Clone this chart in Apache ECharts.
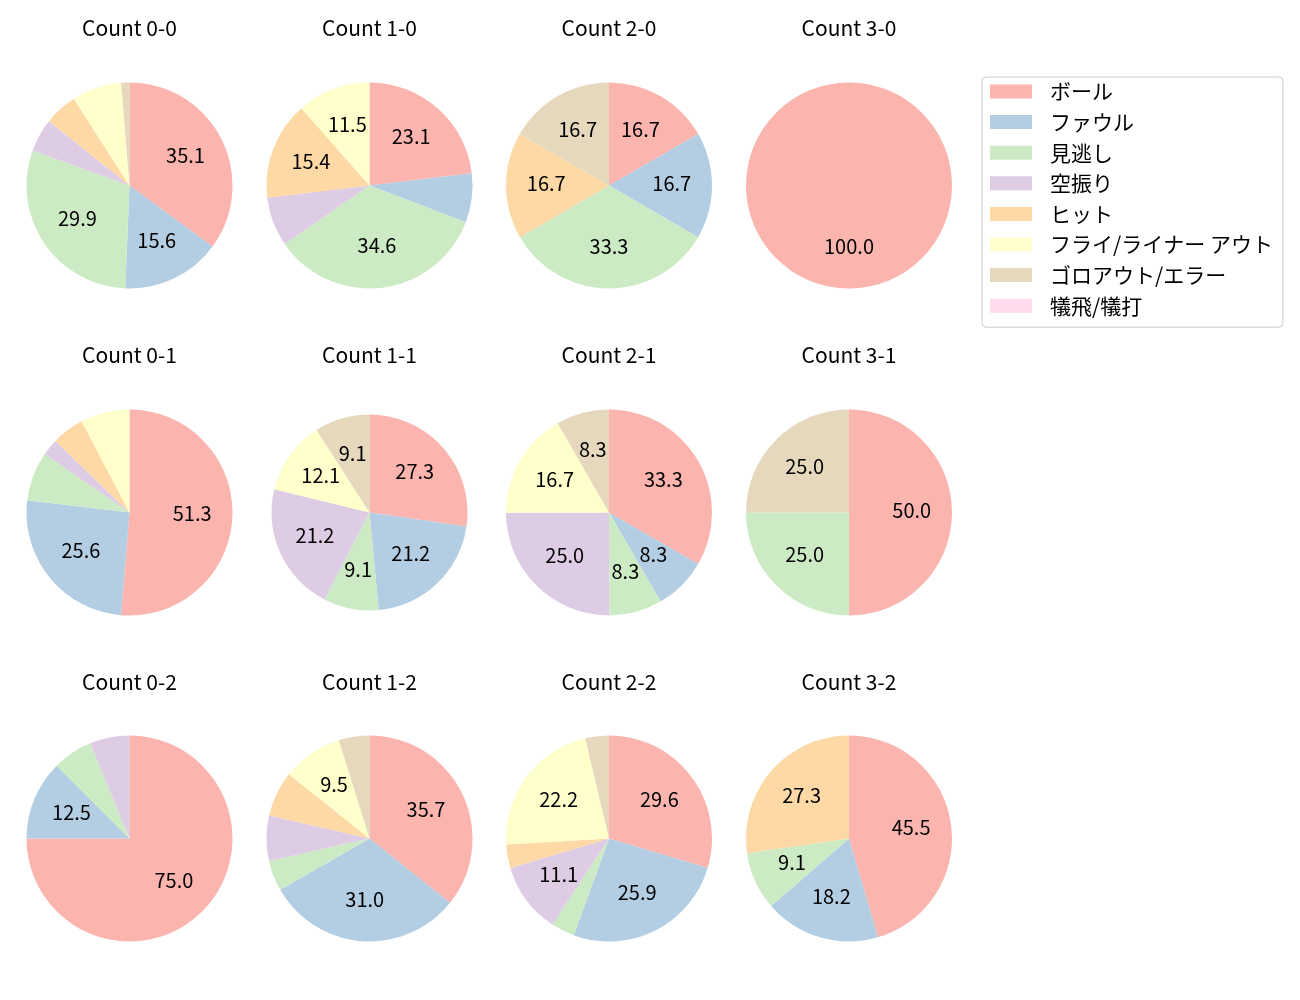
<!DOCTYPE html>
<html>
<head>
<meta charset="utf-8">
<script src="https://cdn.jsdelivr.net/npm/echarts@6/dist/echarts.min.js"></script>
<style>
html,body{margin:0;padding:0;background:#fff;}
#main{width:1300px;height:1000px;}
</style>
</head>
<body>
<div id="main"></div>
<script>
// Categories (legend order)
const categories = ['ボール', 'ファウル', '見逃し', '空振り', 'ヒット', 'フライ/ライナー アウト', 'ゴロアウト/エラー', '犠飛/犠打'];
// Percentages per count, in category order
const count00 = [35.1, 15.6, 29.9, 5.2, 5.2, 7.8, 1.3, 0];
const count10 = [23.1, 7.7, 34.6, 7.7, 15.4, 11.5, 0, 0];
const count20 = [16.7, 16.7, 33.3, 0, 16.7, 0, 16.7, 0];
const count30 = [100.0, 0, 0, 0, 0, 0, 0, 0];
const count01 = [51.3, 25.6, 7.7, 2.6, 5.1, 7.7, 0, 0];
const count11 = [27.3, 21.2, 9.1, 21.2, 0, 12.1, 9.1, 0];
const count21 = [33.3, 8.3, 8.3, 25.0, 0, 16.7, 8.3, 0];
const count31 = [50.0, 0, 25.0, 0, 0, 0, 25.0, 0];
const count02 = [75.0, 12.5, 6.25, 6.25, 0, 0, 0, 0];
const count12 = [35.7, 31.0, 4.8, 7.1, 7.1, 9.5, 4.8, 0];
const count22 = [29.6, 25.9, 3.7, 11.1, 3.7, 22.2, 3.7, 0];
const count32 = [45.5, 18.2, 9.1, 0, 27.3, 0, 0, 0];

const countLabels = ['Count 0-0', 'Count 1-0', 'Count 2-0', 'Count 3-0',
                     'Count 0-1', 'Count 1-1', 'Count 2-1', 'Count 3-1',
                     'Count 0-2', 'Count 1-2', 'Count 2-2', 'Count 3-2'];
const countData = [count00, count10, count20, count30,
                   count01, count11, count21, count31,
                   count02, count12, count22, count32];

const palette = ['#fbb4ae', '#b3cde3', '#ccebc5', '#decbe4', '#fed9a6', '#ffffcc', '#e5d8bd', '#fddaec'];
const colX = [129.5, 369.5, 609, 849];
const rowY = [185.5, 512.5, 838.5];
const titleY = [18, 345, 672];
const radii = [103, 103, 103, 103, 103, 98, 103, 103, 103, 103, 103, 103];
const FONT = '"Noto Sans CJK JP", "Noto Sans", sans-serif';

const titles = [];
const mainSeries = [];
const labelSeries = [];
countData.forEach((vals, i) => {
  const c = i % 4, r = Math.floor(i / 4);
  const R = radii[i];
  titles.push({
    text: countLabels[i], left: colX[c], top: titleY[r], textAlign: 'center', padding: 0,
    textStyle: { fontFamily: FONT, fontSize: 21, fontWeight: 'normal', color: '#000' }
  });
  const data = categories.map((n, k) => ({ name: n, value: vals[k] }));
  mainSeries.push({
    type: 'pie', center: [colX[c], rowY[r]], radius: [0, R],
    startAngle: 90, clockwise: true, silent: true, animation: false,
    label: { show: false }, labelLine: { show: false },
    itemStyle: { borderWidth: 0 },
    data: data
  });
  labelSeries.push({
    type: 'pie', center: [colX[c], rowY[r]], radius: [0, R * 1.16],
    startAngle: 90, clockwise: true, silent: true, animation: false,
    itemStyle: { color: 'rgba(0,0,0,0)', borderWidth: 0 },
    label: {
      show: true, position: 'inside', color: '#000', fontSize: 20, fontFamily: FONT,
      offset: [0, -2],
      formatter: p => (p.value >= 8 ? Number(p.value).toFixed(1) : '')
    },
    labelLine: { show: false },
    data: data.map(d => ({ name: d.name, value: d.value }))
  });
});

const chart = echarts.init(document.getElementById('main'), null, { renderer: 'canvas' });
chart.setOption({
  animation: false,
  color: palette,
  title: titles,
  legend: {
    data: categories, orient: 'vertical', left: 982, top: 77,
    padding: [4, 10, 11, 8],
    borderColor: '#cccccc', borderWidth: 1, borderRadius: 4,
    itemWidth: 42, itemHeight: 14, itemGap: 9.6,
    icon: 'rect', selectedMode: false,
    textStyle: { fontFamily: FONT, fontSize: 21, color: '#000', lineHeight: 20, padding: [0, 0, 0, 13] }
  },
  series: mainSeries.concat(labelSeries)
});
</script>
</body>
</html>
